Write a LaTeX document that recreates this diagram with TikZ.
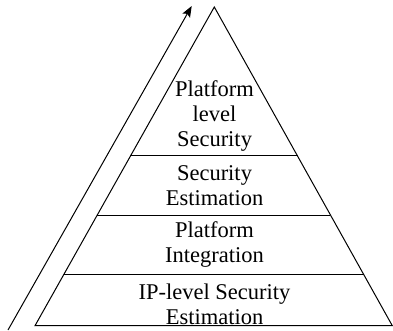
\documentclass[tikz,border=0pt]{standalone}
\usepackage{fontspec}
\setmainfont{Liberation Serif}
\usepackage{tikz}
\usetikzlibrary{arrows.meta,calc}
\usetikzlibrary{positioning}

\begin{document}
\begin{tikzpicture}[x=1pt,y=-1pt,>={Stealth[length=11pt,width=8.5pt,inset=2pt]},
layer/.style={align=center,inner sep=0pt,font=\fontsize{22.5}{25}\selectfont},
edge/.style={-,line width=1pt,black}]
\useasboundingbox (0,0) rectangle (393,331);

\coordinate (apex) at (214.3,7);
\coordinate (bl) at (35,325.7);
\coordinate (br) at (392.3,325.7);

% triangle
\draw[edge] (bl)--(apex)--(br)--cycle;

% layers
\draw[edge] ($(apex)!0.4674!(bl)$)--($(apex)!0.4674!(br)$);
\draw[edge] ($(apex)!0.6527!(bl)$)--($(apex)!0.6527!(br)$);
\draw[edge] ($(apex)!0.8409!(bl)$)--($(apex)!0.8409!(br)$);

\node (top) [layer] at (214.5,116) {Platform\\level\\Security};
\node (second) [layer] at (214.5,186) {Security\\Estimation};
\node (third) [layer] at (214.5,245) {Platform\\Integration};
\node (base) [layer] at (214.5,304) {IP-level Security\\Estimation};

% rising arrow
\coordinate (start) at (8,330);
\coordinate (tip) at (191.7,6);
\draw[->,line width=1pt,black] (start)--(tip);

\end{tikzpicture}
\end{document}
